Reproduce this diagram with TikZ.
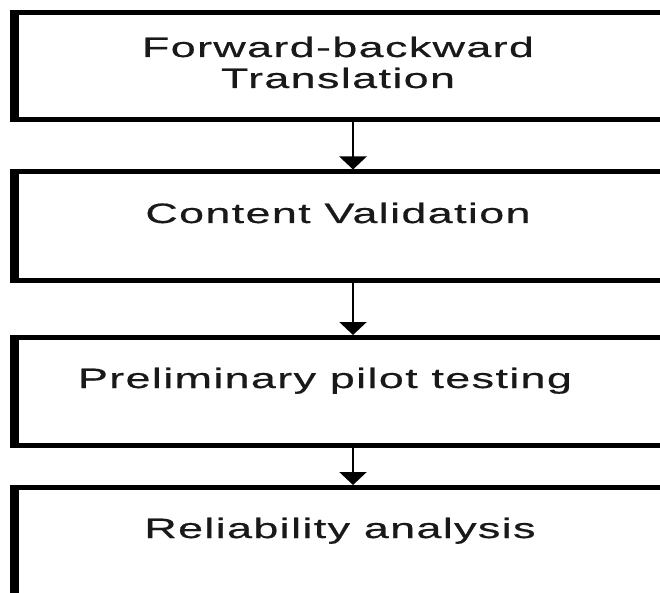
\documentclass[tikz,border=0pt]{standalone}
\usepackage{fontspec}
\usetikzlibrary{arrows.meta}
\newfontfamily\widefont[FakeStretch=1.6,LetterSpace=5,FakeBold=0.6]{Liberation Sans}
\begin{document}
\begin{tikzpicture}[x=1pt,y=-1pt,
  stagebox/.style={draw=black,line width=5pt,rectangle,inner sep=0pt,minimum width=674pt},
  stagetext/.style={font=\widefont\fontsize{28}{31}\selectfont,text=black!90,inner sep=0pt,anchor=base,align=center},
  flowarrow/.style={draw=black,line width=2.5pt,-{Triangle[width=27pt,length=13pt]}}]
\useasboundingbox (0,0) rectangle (660,593);
\clip (0,0) rectangle (660,593);
\fill[white] (0,0) rectangle (660,593);
\node[stagebox,minimum height=107.5pt] (b1) at (353,66.25) {};
\node[stagebox,minimum height=108.5pt] (b2) at (353,226.25) {};
\node[stagebox,minimum height=107.5pt] (b3) at (353,391.25) {};
\node[stagebox,minimum height=162.5pt] (b4) at (353,568.75) {};
\foreach \b in {b1,b2,b3,b4}{
  \draw[line width=8pt] (\b.north west) -- (\b.south west);
}
\node[stagetext] (t1) at (338,88) {Forward-backward\\Translation};
\node[stagetext] (t2) at (338,223) {Content Validation};
\node[stagetext] (t3) at (325,388) {Preliminary pilot testing};
\node[stagetext] (t4) at (340,538) {Reliability analysis};
\draw[flowarrow] (b1.south) -- (b2.north);
\draw[flowarrow] (b2.south) -- (b3.north);
\draw[flowarrow] (b3.south) -- (b4.north);
\end{tikzpicture}
\end{document}
